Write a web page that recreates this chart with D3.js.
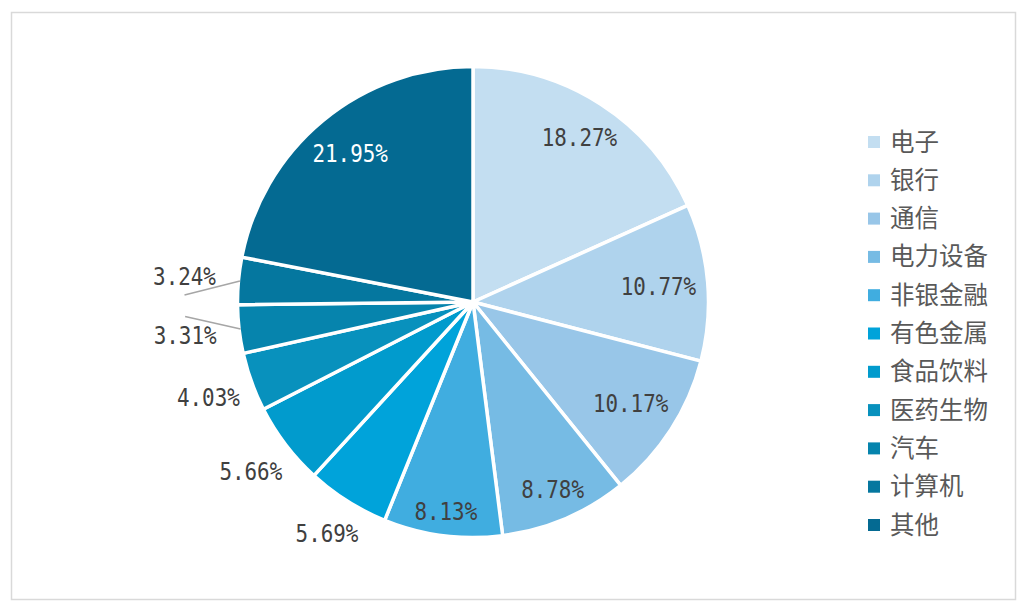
<!DOCTYPE html>
<html>
<head>
<meta charset="utf-8">
<script src="https://cdn.jsdelivr.net/npm/d3@7/dist/d3.min.js"></script>
<style>
  html, body { margin: 0; padding: 0; background: #fff; }
</style>
</head>
<body>
<div id="chart"></div>
<script>
const categories = ['电子', '银行', '通信', '电力设备', '非银金融', '有色金属', '食品饮料', '医药生物', '汽车', '计算机', '其他'];
const shares = [18.27, 10.77, 10.17, 8.78, 8.13, 5.69, 5.66, 4.03, 3.31, 3.24, 21.95];
const colors = ['#c3def1', '#afd3ed', '#98c6e8', '#76bbe4', '#40ade0', '#00a3da', '#019bcd', '#0891bd', '#0684ad', '#05779f', '#046a92'];

const WIDTH = 1030;
const HEIGHT = 614;

const CX = 473;
const CY = 302;
const RADIUS = 235.5;

// Slices below these shares get their label outside / a leader line.
const OUTSIDE_LIMIT = 6;
const LEADER_LIMIT = 3.5;

const LABEL_SIZE = 24;
const LABEL_SX = 0.87;

const svg = d3.select('#chart')
    .append('svg')
        .attr('width', WIDTH)
        .attr('height', HEIGHT);

// Chart frame.
svg.append('rect')
    .attr('x', 11.5)
    .attr('y', 12.5)
    .attr('width', 1004)
    .attr('height', 587)
    .attr('fill', '#fff')
    .attr('stroke', '#d9d9d9')
    .attr('stroke-width', 1.5);

const data = categories.map((name, i) => ({name, value: shares[i], color: colors[i]}));

const pie = d3.pie()
    .sort(null)
    .value(d => d.value);

const arcs = pie(data);

const arc = d3.arc()
    .innerRadius(0)
    .outerRadius(RADIUS);

const chart = svg.append('g')
    .attr('transform', `translate(${CX}, ${CY})`);

// Slices.
chart.selectAll('path.slice')
    .data(arcs)
    .enter()
    .append('path')
        .attr('class', 'slice')
        .attr('d', arc)
        .attr('fill', d => d.data.color)
        .attr('stroke', '#fff')
        .attr('stroke-width', 3.5)
        .attr('stroke-linejoin', 'round');

const midAngle = d => (d.startAngle + d.endAngle) / 2;
const polar = (a, r) => [r * Math.sin(a), -r * Math.cos(a)];

// Percentage labels: text box kept a fixed distance from the rim.
const labels = chart.selectAll('text.label')
    .data(arcs)
    .enter()
    .append('text')
        .attr('class', 'label')
        .attr('text-anchor', 'middle')
        .attr('dominant-baseline', 'central')
        .attr('font-family', '"DejaVu Sans Mono", monospace')
        .attr('font-size', LABEL_SIZE)
        .attr('fill', d => d.data.value >= OUTSIDE_LIMIT && d3.hsl(d.data.color).l < 0.33 ? '#fff' : '#404040')
        .text(d => `${d.data.value.toFixed(2)}%`);

labels.each(function(d) {
    const a = midAngle(d);
    const hw = this.getComputedTextLength() * LABEL_SX / 2;
    const hh = LABEL_SIZE * 0.4;
    const extent = Math.abs(Math.sin(a)) * hw + Math.abs(Math.cos(a)) * hh;
    let dist;
    if (d.data.value >= OUTSIDE_LIMIT) dist = RADIUS - 11 - extent;
    else if (d.data.value >= LEADER_LIMIT) dist = RADIUS + 13 + extent;
    else dist = RADIUS + 22 + extent;
    d.labelXY = polar(a, dist);
    d3.select(this)
        .attr('transform', `translate(${d.labelXY[0]}, ${d.labelXY[1]}) scale(${LABEL_SX}, 1)`);
});

// Leader lines for the thinnest slices.
chart.selectAll('line.leader')
    .data(arcs.filter(d => d.data.value < LEADER_LIMIT))
    .enter()
    .insert('line', 'text')
        .attr('class', 'leader')
        .attr('x1', d => polar(midAngle(d), RADIUS - 1.5)[0])
        .attr('y1', d => polar(midAngle(d), RADIUS - 1.5)[1])
        .attr('x2', d => d.labelXY[0])
        .attr('y2', d => d.labelXY[1] + (d.labelXY[1] < 0 ? 19 : -19))
        .attr('stroke', '#a6a6a6')
        .attr('stroke-width', 1.5);

// Legend.
const legend = svg.append('g')
    .attr('transform', 'translate(868, 142)');

const rowStep = 38.3;

const rows = legend.selectAll('g.row')
    .data(data)
    .enter()
    .append('g')
        .attr('class', 'row')
        .attr('transform', (d, i) => `translate(0, ${i * rowStep})`);

rows.append('rect')
    .attr('x', 0)
    .attr('y', -6)
    .attr('width', 12)
    .attr('height', 12)
    .attr('fill', d => d.color);

rows.append('text')
    .attr('x', 22)
    .attr('y', -2)
    .attr('dominant-baseline', 'central')
    .attr('font-family', '"Noto Sans CJK SC", sans-serif')
    .attr('font-size', 24.5)
    .attr('fill', '#595959')
    .text(d => d.name);
</script>
</body>
</html>
